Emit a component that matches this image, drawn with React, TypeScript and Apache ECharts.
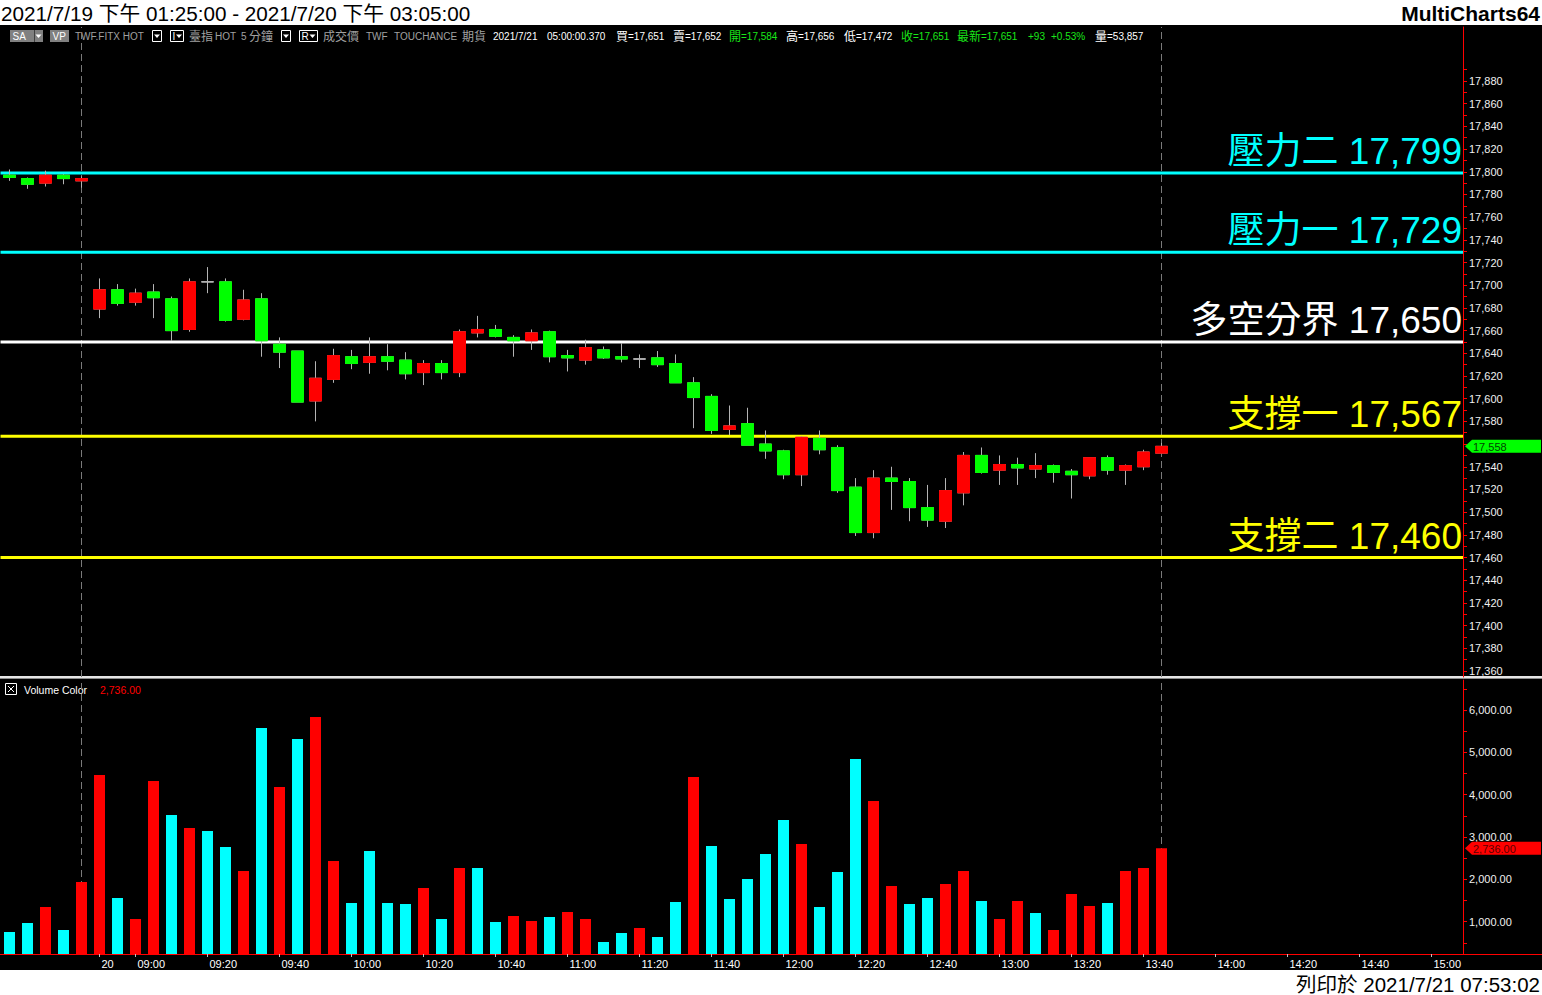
import React, { useEffect, useRef } from 'react';
import * as echarts from 'echarts';

const categories = [
  '07/19 13:25', '07/19 13:30', '07/19 13:35', '07/19 13:40', '07/19 13:45',
  '07/20 08:50', '07/20 08:55',
  '07/20 09:00', '07/20 09:05', '07/20 09:10', '07/20 09:15', '07/20 09:20', '07/20 09:25', '07/20 09:30', '07/20 09:35', '07/20 09:40', '07/20 09:45', '07/20 09:50', '07/20 09:55',
  '07/20 10:00', '07/20 10:05', '07/20 10:10', '07/20 10:15', '07/20 10:20', '07/20 10:25', '07/20 10:30', '07/20 10:35', '07/20 10:40', '07/20 10:45', '07/20 10:50', '07/20 10:55',
  '07/20 11:00', '07/20 11:05', '07/20 11:10', '07/20 11:15', '07/20 11:20', '07/20 11:25', '07/20 11:30', '07/20 11:35', '07/20 11:40', '07/20 11:45', '07/20 11:50', '07/20 11:55',
  '07/20 12:00', '07/20 12:05', '07/20 12:10', '07/20 12:15', '07/20 12:20', '07/20 12:25', '07/20 12:30', '07/20 12:35', '07/20 12:40', '07/20 12:45', '07/20 12:50', '07/20 12:55',
  '07/20 13:00', '07/20 13:05', '07/20 13:10', '07/20 13:15', '07/20 13:20', '07/20 13:25', '07/20 13:30', '07/20 13:35', '07/20 13:40', '07/20 13:45', '07/20 13:50', '07/20 13:55',
  '07/20 14:00', '07/20 14:05', '07/20 14:10', '07/20 14:15', '07/20 14:20', '07/20 14:25', '07/20 14:30', '07/20 14:35', '07/20 14:40', '07/20 14:45', '07/20 14:50', '07/20 14:55',
  '07/20 15:00', '07/20 15:05',
];

const opens = [
  17797, 17794, 17790, 17797, 17792,
  17679, 17696, 17685, 17694, 17688, 17661, 17703, 17703, 17670, 17688,
  17648, 17642, 17598, 17617, 17637, 17632, 17637, 17634, 17623, 17631,
  17623, 17658, 17661, 17654, 17651, 17659, 17638, 17634, 17643, 17637,
  17635, 17636, 17631, 17614, 17602, 17573, 17578, 17560, 17554, 17533,
  17565, 17557, 17522, 17482, 17530, 17527, 17504, 17492, 17517, 17550,
  17537, 17542, 17538, 17541, 17536, 17532, 17548, 17537, 17540, 17552,
];
const highs = [
  17802, 17795, 17801, 17798, 17796,
  17706, 17701, 17697, 17701, 17690, 17706, 17716, 17706, 17696, 17693,
  17654, 17642, 17633, 17644, 17643, 17654, 17648, 17641, 17634, 17634,
  17661, 17673, 17665, 17656, 17661, 17660, 17643, 17652, 17646, 17649,
  17639, 17642, 17639, 17619, 17604, 17594, 17592, 17572, 17555, 17567,
  17572, 17559, 17530, 17537, 17540, 17530, 17524, 17530, 17553, 17557,
  17550, 17548, 17552, 17542, 17538, 17548, 17550, 17542, 17555, 17561,
];
const lows = [
  17792, 17785, 17787, 17789, 17786,
  17671, 17682, 17682, 17671, 17651, 17659, 17693, 17668, 17669, 17637,
  17627, 17597, 17580, 17614, 17626, 17622, 17625, 17617, 17612, 17617,
  17619, 17654, 17654, 17637, 17643, 17632, 17624, 17630, 17635, 17632,
  17627, 17628, 17614, 17574, 17569, 17568, 17559, 17547, 17529, 17523,
  17551, 17517, 17479, 17477, 17502, 17492, 17487, 17486, 17506, 17534,
  17524, 17524, 17530, 17526, 17512, 17529, 17533, 17524, 17537, 17552,
];
const closes = [
  17795, 17789, 17797, 17794, 17794,
  17696, 17684, 17693, 17689, 17660, 17703, 17703, 17669, 17687, 17651,
  17641, 17597, 17618, 17638, 17631, 17637, 17633, 17622, 17631, 17623,
  17659, 17661, 17655, 17651, 17658, 17637, 17636, 17645, 17636, 17635,
  17635, 17630, 17614, 17601, 17572, 17576, 17559, 17554, 17533, 17566,
  17555, 17519, 17482, 17530, 17527, 17504, 17493, 17519, 17550, 17535,
  17542, 17539, 17541, 17535, 17533, 17548, 17537, 17541, 17553, 17558,
];
const volumes = [
  756, 968, 1346, 803, 1937,
  4464, 1559, 1063, 4322, 3519, 3212, 3141, 2764, 2197, 5574,
  4181, 5315, 5834, 2433, 1441, 2669, 1441, 1417, 1795, 1063,
  2268, 2268, 992, 1134, 1016, 1110, 1228, 1063, 520, 732,
  850, 638, 1464, 4417, 2787, 1535, 2008, 2598, 3401, 2834,
  1346, 2173, 4842, 3850, 1842, 1417, 1559, 1890, 2197, 1488,
  1063, 1488, 1205, 803, 1653, 1370, 1441, 2197, 2268, 2736,
];
// 1 = red volume bar, 0 = cyan volume bar
const volumeUp = [
  0, 0, 1, 0, 1,
  1, 0, 1, 1, 0, 1, 0, 0, 1, 0,
  1, 0, 1, 1, 0, 0, 0, 0, 1, 0,
  1, 0, 0, 1, 1, 0, 1, 1, 0, 0,
  1, 0, 0, 1, 0, 0, 0, 0, 0, 1,
  0, 0, 0, 1, 1, 0, 0, 1, 1, 0,
  1, 1, 0, 1, 1, 1, 0, 1, 1, 1,
];

const sessionEnds = ['07/19 13:45', '07/20 13:45'];
const xTickCats = [
  '07/20 08:50', '07/20 09:00', '07/20 09:20', '07/20 09:40', '07/20 10:00', '07/20 10:20', '07/20 10:40',
  '07/20 11:00', '07/20 11:20', '07/20 11:40', '07/20 12:00', '07/20 12:20', '07/20 12:40', '07/20 13:00',
  '07/20 13:20', '07/20 13:40', '07/20 14:00', '07/20 14:20', '07/20 14:40', '07/20 15:00',
];
const xTickLabels = [
  '20', '09:00', '09:20', '09:40', '10:00', '10:20', '10:40', '11:00', '11:20', '11:40',
  '12:00', '12:20', '12:40', '13:00', '13:20', '13:40', '14:00', '14:20', '14:40', '15:00',
];
const priceLabels = [
  17360, 17380, 17400, 17420, 17440, 17460, 17480, 17500, 17520, 17540, 17560, 17580, 17600, 17620,
  17640, 17660, 17680, 17700, 17720, 17740, 17760, 17780, 17800, 17820, 17840, 17860, 17880,
];
const volumeLabels = [1000, 2000, 3000, 4000, 5000, 6000];

const levelNames = ['壓力二', '壓力一', '多空分界', '支撐一', '支撐二'];
const levelValues = [17799, 17729, 17650, 17567, 17460];

const RED = '#ff0000';
const GREEN = '#00ff00';
const CYAN = '#00ffff';
const YELLOW = '#ffff00';
const WICK = '#b4b4b4';
const HGREY = '#a0a0a0';
const HGREEN = '#19e619';
const levelColors = [CYAN, CYAN, '#ffffff', YELLOW, YELLOW];
const FONT = '"Liberation Sans", Arial, "Noto Sans CJK TC", sans-serif';

const PMIN = 17354.7;
const PMAX = 17927.6;
const VMIN = 236;
const VMAX = 6708;

const fmt = (v: number) => v.toLocaleString('en-US');
const fmt2 = (v: number) => v.toLocaleString('en-US', { minimumFractionDigits: 2, maximumFractionDigits: 2 });

function tri(cx: number, cy: number, fill: string) {
  return { type: 'polygon', shape: { points: [[cx - 3, cy - 1.5], [cx + 3, cy - 1.5], [cx, cy + 2]] }, style: { fill } };
}
function txt(text: string, x: number, y: number, fill: string, fontSize: number, extra: any = {}) {
  return {
    type: 'text', x, y,
    style: { text, fill, fontSize, fontFamily: FONT, verticalAlign: 'middle', align: 'left', ...extra },
  };
}

export default function App() {
  const ref = useRef<HTMLDivElement>(null);

  useEffect(() => {
    if (!ref.current) return;
    const chart = echarts.init(ref.current, null, { renderer: 'svg' });
    const n = opens.length;
    const lastPrice = closes[n - 1];

    const ohlcFull = opens.map((o, i) => [o, closes[i], lows[i], highs[i]]);
    const bodies = opens.map((o, i) => {
      const c = closes[i];
      const item: any = { value: [o, c, Math.min(o, c), Math.max(o, c)] };
      if (o === c) item.itemStyle = { color: WICK, color0: WICK, borderColor: WICK, borderColor0: WICK };
      return item;
    });

    const priceTicks: number[] = [];
    priceLabels.forEach((v) => { priceTicks.push(v); priceTicks.push(v + 10); });
    // the last-price tag covers the label right under it
    const shownPriceLabels = priceLabels.filter((v) => Math.abs(v - lastPrice) > 9);
    const volTicks: number[] = [];
    volumeLabels.forEach((v) => { volTicks.push(v); volTicks.push(v - 500); });
    volTicks.push(6500);

    const headerItems: [string, number, string, number][] = [
      ['TWF.FITX HOT', 75, HGREY, 10],
      ['臺指', 189, HGREY, 12], ['HOT', 215, HGREY, 10], ['5', 241, HGREY, 10], ['分鐘', 249, HGREY, 12],
      ['成交價', 323, HGREY, 12], ['TWF', 366, HGREY, 10], ['TOUCHANCE', 394, HGREY, 10], ['期貨', 462, HGREY, 12],
      ['2021/7/21', 493, '#ffffff', 10], ['05:00:00.370', 547, '#ffffff', 10],
      ['買', 616, '#ffffff', 12], ['=17,651', 628, '#ffffff', 10],
      ['賣', 673, '#ffffff', 12], ['=17,652', 685, '#ffffff', 10],
      ['開', 729, HGREEN, 12], ['=17,584', 741, HGREEN, 10],
      ['高', 786, '#ffffff', 12], ['=17,656', 798, '#ffffff', 10],
      ['低', 844, '#ffffff', 12], ['=17,472', 856, '#ffffff', 10],
      ['收', 901, HGREEN, 12], ['=17,651', 913, HGREEN, 10],
      ['最新', 957, HGREEN, 12], ['=17,651', 981, HGREEN, 10],
      ['+93', 1028, HGREEN, 10], ['+0.53%', 1051, HGREEN, 10],
      ['量', 1095, '#ffffff', 12], ['=53,857', 1107, '#ffffff', 10],
    ];

    const graphic: any[] = [
      { type: 'rect', shape: { x: 0, y: 0, width: 1542, height: 25 }, style: { fill: '#ffffff' } },
      { type: 'rect', shape: { x: 0, y: 970, width: 1542, height: 25 }, style: { fill: '#ffffff' } },
      txt('2021/7/19 下午 01:25:00 - 2021/7/20 下午 03:05:00', 1, 13, '#000000', 20.7),
      txt('MultiCharts64', 1540, 13, '#000000', 21, { align: 'right', fontWeight: 'bold' }),
      txt('列印於 2021/7/21 07:53:02', 1540, 984, '#000000', 20.5, { align: 'right' }),
      // header controls
      { type: 'rect', shape: { x: 10, y: 30, width: 33, height: 12 }, style: { fill: '#808080' } },
      { type: 'line', shape: { x1: 34.5, y1: 30, x2: 34.5, y2: 42 }, style: { stroke: '#404040', lineWidth: 1 } },
      txt('SA', 12.5, 36.5, '#ffffff', 10),
      tri(38.5, 36, '#ffffff'),
      { type: 'rect', shape: { x: 50, y: 30, width: 19, height: 12 }, style: { fill: '#808080' } },
      txt('VP', 52.5, 36.5, '#ffffff', 10),
      { type: 'rect', shape: { x: 152.5, y: 30.5, width: 9, height: 11 }, style: { fill: 'none', stroke: '#ffffff', lineWidth: 1 } },
      tri(157, 36, '#ffffff'),
      { type: 'rect', shape: { x: 170.5, y: 30.5, width: 13, height: 11 }, style: { fill: 'none', stroke: '#ffffff', lineWidth: 1 } },
      txt('I', 172.5, 36.5, '#ffffff', 10),
      tri(179, 36, '#ffffff'),
      { type: 'rect', shape: { x: 281.5, y: 30.5, width: 9, height: 11 }, style: { fill: 'none', stroke: '#ffffff', lineWidth: 1 } },
      tri(286, 36, '#ffffff'),
      { type: 'rect', shape: { x: 299.5, y: 30.5, width: 18, height: 11 }, style: { fill: 'none', stroke: '#ffffff', lineWidth: 1 } },
      txt('R', 301.5, 36.5, '#ffffff', 10),
      tri(312.5, 36, '#ffffff'),
      ...headerItems.map(([t, x, c, s]) => txt(t, x, 36.5, c, s)),
      // pane separator
      { type: 'rect', shape: { x: 0, y: 676, width: 1542, height: 2 }, style: { fill: '#e6e6e6' } },
      { type: 'rect', shape: { x: 0, y: 678, width: 1542, height: 1 }, style: { fill: '#8c8c8c' } },
      // volume baseline
      { type: 'line', shape: { x1: 0, y1: 954.5, x2: 1542, y2: 954.5 }, style: { stroke: RED, lineWidth: 1 } },
      // volume legend
      { type: 'rect', shape: { x: 5.5, y: 683.5, width: 11, height: 11 }, style: { fill: 'none', stroke: '#ffffff', lineWidth: 1 } },
      { type: 'line', shape: { x1: 8, y1: 686, x2: 14, y2: 692 }, style: { stroke: '#ffffff', lineWidth: 1 } },
      { type: 'line', shape: { x1: 14, y1: 686, x2: 8, y2: 692 }, style: { stroke: '#ffffff', lineWidth: 1 } },
      txt('Volume Color', 24, 689.5, '#ffffff', 10.5),
      txt(fmt2(volumes[n - 1]), 100, 689.5, RED, 10.5),
    ];

    const tagRender = (bg: string, fg: string, text: string, extra: number) => (params: any, api: any) => {
      const y = api.coord([api.value(0), api.value(1)])[1];
      const tip = params.coordSys.x + params.coordSys.width + extra;
      return {
        type: 'group',
        children: [
          { type: 'polygon', shape: { points: [[tip, y], [tip + 7, y - 6.5], [1541, y - 6.5], [1541, y + 6.5], [tip + 7, y + 6.5]] }, style: { fill: bg } },
          { type: 'text', x: tip + 8, y: y + 0.5, style: { text, fill: fg, fontSize: 11, fontFamily: FONT, verticalAlign: 'middle', align: 'left' } },
        ],
      };
    };

    const option: any = {
      animation: false,
      backgroundColor: '#000000',
      graphic,
      grid: [
        { left: 0.5, top: 27, width: 1458, height: 650 },
        { left: 0.5, top: 27, width: 1462.5, height: 650 },
        { left: 0.5, top: 680, width: 1458, height: 274 },
      ],
      xAxis: [
        { type: 'category', gridIndex: 0, data: categories, boundaryGap: true, show: false },
        { type: 'value', gridIndex: 1, min: 0, max: 1, show: false, axisLine: { onZero: false } },
        {
          type: 'category', gridIndex: 2, data: categories, boundaryGap: true,
          axisLine: { show: true, onZero: false, lineStyle: { color: RED, width: 1 } },
          axisTick: {
            show: true, alignWithLabel: true, length: 3, lineStyle: { color: '#c0c0c0' },
            interval: (_i: number, v: string) => xTickCats.includes(v),
          },
          axisLabel: {
            show: true, color: '#ffffff', fontSize: 11, fontFamily: FONT, margin: 4, align: 'left',
            padding: [0, 0, 0, 2],
            interval: (_i: number, v: string) => xTickCats.includes(v),
            formatter: (v: string) => {
              const k = xTickCats.indexOf(v);
              return k >= 0 ? xTickLabels[k] : '';
            },
          },
          splitLine: { show: false },
        },
      ],
      yAxis: [
        { type: 'value', gridIndex: 0, min: PMIN, max: PMAX, show: false, axisLine: { onZero: false } },
        {
          type: 'value', gridIndex: 1, position: 'right', min: PMIN, max: PMAX,
          axisLine: { show: true, onZero: false, lineStyle: { color: RED, width: 1 } },
          axisTick: { show: true, length: 4, lineStyle: { color: RED }, customValues: priceTicks },
          axisLabel: { show: true, color: '#f0f0f0', fontSize: 11, fontFamily: FONT, margin: 6, customValues: shownPriceLabels, formatter: (v: number) => fmt(v) },
          splitLine: { show: false },
        },
        {
          type: 'value', gridIndex: 2, position: 'right', offset: 4.5, min: VMIN, max: VMAX,
          axisLine: { show: true, onZero: false, lineStyle: { color: RED, width: 1 } },
          axisTick: { show: true, length: 4, lineStyle: { color: RED }, customValues: volTicks },
          axisLabel: { show: true, color: '#f0f0f0', fontSize: 11, fontFamily: FONT, margin: 6, customValues: volumeLabels, formatter: (v: number) => fmt2(v) },
          splitLine: { show: false },
        },
      ],
      series: [
        {
          name: 'wick', type: 'candlestick', xAxisIndex: 0, yAxisIndex: 0, barWidth: 13, silent: true,
          data: ohlcFull,
          itemStyle: { color: 'rgba(0,0,0,0)', color0: 'rgba(0,0,0,0)', borderColor: WICK, borderColor0: WICK, borderWidth: 1 },
          markLine: {
            silent: true, symbol: 'none', z: 1, label: { show: false },
            lineStyle: { color: '#7a7a7a', type: [7, 4], width: 1 },
            data: sessionEnds.map((c) => ({ xAxis: c })),
          },
        },
        {
          name: 'body', type: 'candlestick', xAxisIndex: 0, yAxisIndex: 0, barWidth: 13, silent: true,
          data: bodies,
          itemStyle: { color: RED, color0: GREEN, borderColor: RED, borderColor0: GREEN, borderWidth: 1 },
        },
        {
          name: 'levels', type: 'custom', xAxisIndex: 1, yAxisIndex: 1, silent: true,
          data: levelValues.map((v) => [0, v]),
          renderItem: (params: any, api: any) => {
            const i = params.dataIndex;
            const v = api.value(1);
            const p0 = api.coord([0, v]);
            const p1 = api.coord([1, v]);
            return {
              type: 'group',
              children: [
                { type: 'line', shape: { x1: p0[0], y1: p0[1], x2: p1[0], y2: p1[1] }, style: { stroke: levelColors[i], lineWidth: 3 } },
                {
                  type: 'text', x: p1[0] - 1, y: p1[1] - 3,
                  style: { text: `${levelNames[i]} ${fmt(v)}`, fill: levelColors[i], fontSize: 37, fontFamily: FONT, align: 'right', verticalAlign: 'bottom' },
                },
              ],
            };
          },
        },
        {
          name: 'lastPrice', type: 'custom', xAxisIndex: 1, yAxisIndex: 1, silent: true,
          data: [[1, lastPrice]],
          renderItem: tagRender(GREEN, '#004400', fmt(lastPrice), 2),
        },
        {
          name: 'volume', type: 'bar', xAxisIndex: 2, yAxisIndex: 2, barWidth: 11, silent: true,
          data: volumes,
          itemStyle: { color: (p: any) => (volumeUp[p.dataIndex] ? RED : CYAN) },
          markLine: {
            silent: true, symbol: 'none', z: 1, label: { show: false },
            lineStyle: { color: '#7a7a7a', type: [7, 4], width: 1 },
            data: sessionEnds.map((c) => ({ xAxis: c })),
          },
        },
        {
          name: 'lastVolume', type: 'custom', xAxisIndex: 2, yAxisIndex: 2, silent: true,
          data: [[n - 1, volumes[n - 1]]],
          renderItem: tagRender(RED, '#5a0000', fmt2(volumes[n - 1]), 6.5),
        },
      ],
    };

    chart.setOption(option);
    return () => chart.dispose();
  }, []);

  return <div ref={ref} style={{ position: 'absolute', left: 0, top: 0, width: 1542, height: 995 }} />;
}
